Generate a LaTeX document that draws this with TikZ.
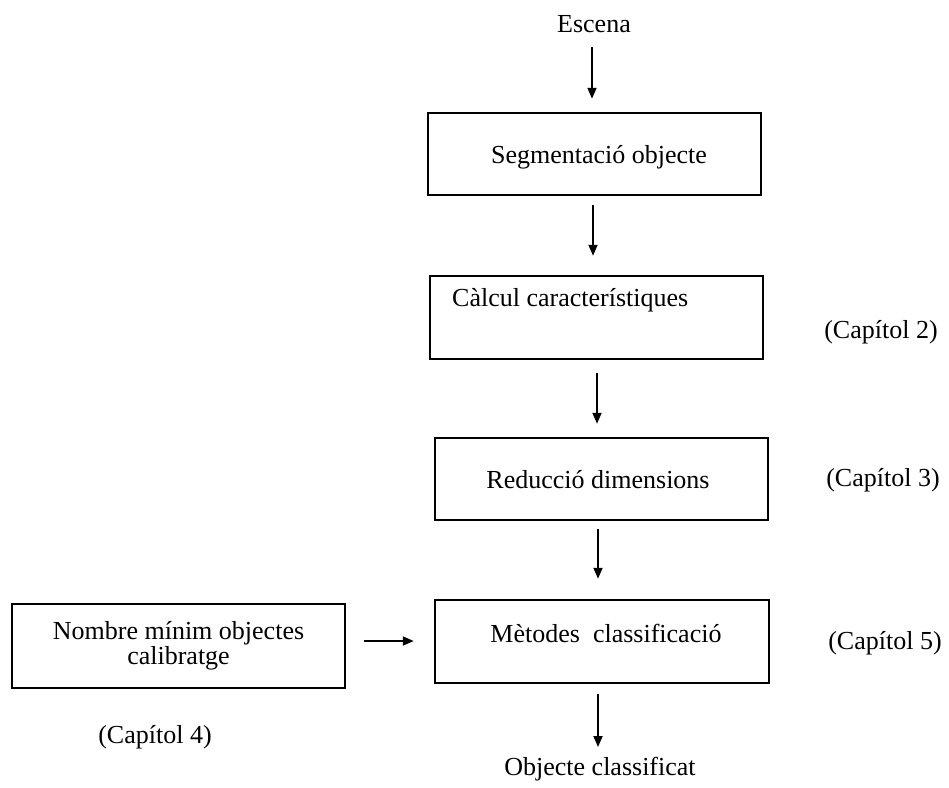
\documentclass[tikz,border=0pt]{standalone}
\usepackage{fontspec}
\setmainfont{Liberation Serif}
\usetikzlibrary{arrows.meta,calc}
\begin{document}
\begin{tikzpicture}[x=1pt,y=-1pt,
  box/.style={draw,line width=2.5pt,rectangle,inner sep=0pt,font=\fontsize{26}{25}\selectfont},
  txt/.style={inner sep=0pt,anchor=base,font=\fontsize{26}{25}\selectfont},
  arr/.style={line width=1.8pt,-{Triangle[length=11pt,width=9pt]}}]
\path[fill=white] (0,0) rectangle (949,787);
\useasboundingbox (0,0) rectangle (949,787);

% boxes
\node[box,minimum width=333pt,minimum height=82pt] (b1) at (594.5,154) {};
\node[box,minimum width=333pt,minimum height=83pt] (b2) at (596.5,317.5) {};
\node[box,minimum width=333pt,minimum height=82pt] (b3) at (601.5,479) {};
\node[box,minimum width=334pt,minimum height=83pt] (b4) at (602,641.5) {};
\node[box,minimum width=333pt,minimum height=84pt,align=center] (b0) at (178.5,646) {Nombre mínim objectes\\calibratge};

% texts
\node[txt] (esc) at (594,32) {Escena};
\node[txt] (t1) at (599,163) {Segmentació objecte};
\node[txt,anchor=base west] (t2) at (452,306) {Càlcul característiques};
\node[txt] (t3) at (598,488) {Reducció dimensions};
\node[txt] (t4) at (606,642) {Mètodes\ \ classificació};
\node[txt] (out) at (600,775) {Objecte classificat};

\node[txt] (c2) at (881,338.5) {(Capítol 2)};
\node[txt] (c3) at (883,486.5) {(Capítol 3)};
\node[txt] (c5) at (885,649.5) {(Capítol 5)};
\node[txt] (c4) at (155,743.5) {(Capítol 4)};

% connectors
\draw[arr] ($(esc.base)+(-2,15)$) -- ($(b1.north)+(-2.5,-13)$);
\draw[arr] ($(b1.south)+(-1.5,9)$) -- ($(b2.north)+(-3.5,-19)$);
\draw[arr] ($(b2.south)+(0.5,13)$) -- ($(b3.north)+(-4.5,-13)$);
\draw[arr] ($(b3.south)+(-3.5,8)$) -- ($(b4.north)+(-4,-20)$);
\draw[arr] ($(b4.south)+(-4,10)$) -- ($(out.base)+(-2,-28)$);
\draw[arr] ($(b0.east)+(18,-5)$) -- ($(b4.west)+(-20,-0.5)$);
\end{tikzpicture}
\end{document}
